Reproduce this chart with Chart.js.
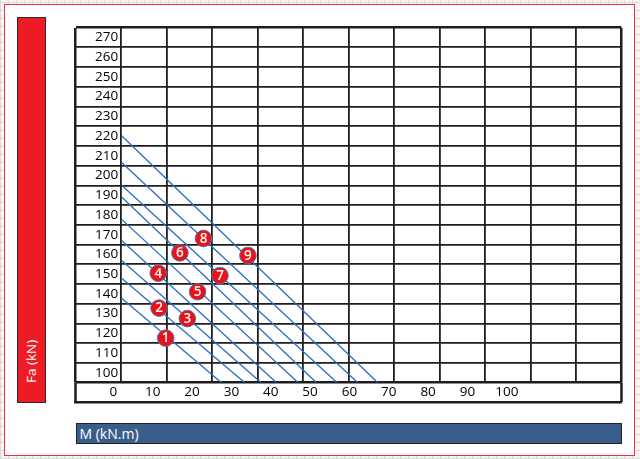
<!DOCTYPE html>
<html>
<head>
<meta charset="utf-8">
<script src="https://cdn.jsdelivr.net/npm/chart.js@4.4.1/dist/chart.umd.min.js"></script>
<style>
  html, body { margin:0; padding:0; }
  body {
    width:640px; height:459px; position:relative; overflow:hidden;
    background-color:#f6f6f6;
    background-image:
      repeating-linear-gradient(0deg, #d9d9d9 0 1px, transparent 1px 8px),
      repeating-linear-gradient(90deg, #d9d9d9 0 1px, transparent 1px 8px);
    font-family:'Open Sans', sans-serif;
  }
  #frame { position:absolute; left:3.5px; top:3.5px; width:631px; height:452.5px;
    box-sizing:border-box; border:1.5px solid #e8343d; background:#fff; }
  #ybar { position:absolute; left:16.5px; top:17px; width:29.5px; height:385.5px;
    box-sizing:border-box; background:#ed1c24; border:1px solid #2a2a2a; }
  #ybar span { position:absolute; left:50%; bottom:3px; transform-origin:0 0;
    transform:rotate(-90deg) translate(0,-50%); color:#fff; font-size:13.5px;
    white-space:nowrap; line-height:16px; }
  #xbar { position:absolute; left:75.5px; top:422.5px; width:546px; height:21px;
    box-sizing:border-box; background:#3a5e8c; border:1px solid #222; color:#fff;
    font-size:14px; line-height:19px; padding-left:3px; }
  #wrap { position:absolute; left:0; top:0; width:640px; height:459px; }
</style>
</head>
<body>
<div id="frame"></div>
<div id="ybar"><span>Fa (kN)</span></div>
<div id="xbar">M (kN.m)</div>
<div id="wrap"><canvas id="c"></canvas></div>
<script>
// ---- data ----
const xTickValues = [0, 10, 20, 30, 40, 50, 60, 70, 80, 90, 100];
const yTickValues = [100, 110, 120, 130, 140, 150, 160, 170, 180, 190, 200, 210, 220, 230, 240, 250, 260, 270];

const lineStartM  = [2.1, 2.1, 2.1, 2.1, 2.1, 2.1, 2.1, 2.1, 2.1];
const lineStartFa = [137.8, 147.9, 157.0, 167.1, 177.8, 189.1, 195.1, 206.6, 220.2];
const lineEndM    = [27.35, 33.27, 37.44, 41.33, 46.85, 51.5, 56.76, 62.0, 67.08];
const lineEndFa   = [95.2, 95.2, 95.2, 95.2, 95.2, 95.2, 95.2, 95.2, 95.2];

const markerLabels = ['1', '2', '3', '4', '5', '6', '7', '8', '9'];
const markerM  = [13.3, 11.6, 18.8, 11.4, 21.4, 16.9, 27.1, 22.9, 34.2];
const markerFa = [117.6, 132.8, 127.5, 150.5, 141.1, 160.8, 149.3, 168.1, 159.5];

// ---- config ----
const X_MIN = -9.634, X_MAX = 129.16;
const Y_MIN = 95, Y_MAX = 275;
const GRID = '#1e1e1e';
const tickFont = { family: "'Open Sans'", size: 13.5 };

const datasets = [{
  label: 'points',
  data: markerM.map((m, i) => ({ x: m, y: markerFa[i] })),
  backgroundColor: '#ea1119',
  borderColor: '#4f76a8',
  borderWidth: 1,
  pointRadius: 8.3,
  pointHoverRadius: 8.3,
  showLine: false
}];
lineStartFa.forEach((fa, i) => {
  datasets.push({
    label: 'line' + (i + 1),
    data: [{ x: lineStartM[i], y: fa }, { x: lineEndM[i], y: lineEndFa[i] }],
    borderColor: '#2d6cbf',
    borderWidth: 1.3,
    pointRadius: 0,
    showLine: true,
    fill: false,
    tension: 0
  });
});

const markerText = {
  id: 'markerText',
  afterDatasetsDraw(chart) {
    const ctx = chart.ctx;
    const meta = chart.getDatasetMeta(0);
    ctx.save();
    ctx.fillStyle = '#fff';
    ctx.font = "600 13.5px 'Open Sans'";
    ctx.textAlign = 'center';
    ctx.textBaseline = 'middle';
    meta.data.forEach((pt, i) => ctx.fillText(markerLabels[i], pt.x, pt.y + 0.5));
    ctx.restore();
  }
};

const isEdge = (v, a, b) => Math.abs(v - a) < 1e-6 || Math.abs(v - b) < 1e-6;

new Chart(document.getElementById('c'), {
  type: 'scatter',
  data: { datasets },
  plugins: [markerText],
  options: {
    responsive: true,
    maintainAspectRatio: false,
    animation: false,
    events: [],
    layout: { padding: { left: 75.5, top: 17, right: 18.5, bottom: 57 } },
    plugins: { legend: { display: false }, tooltip: { enabled: false } },
    scales: {
      x: {
        type: 'linear', position: 'bottom', min: X_MIN, max: X_MAX,
        afterBuildTicks: s => { s.ticks = [X_MIN, ...xTickValues, X_MAX].map(v => ({ value: v })); },
        afterFit: s => { s.height = 19.3; },
        grid: {
          display: true, drawOnChartArea: false, drawTicks: true, tickLength: 19.3,
          tickColor: c => (c.tick && isEdge(c.tick.value, X_MIN, X_MAX)) ? GRID : 'rgba(0,0,0,0)',
          tickWidth: 2.5
        },
        border: { display: false },
        ticks: {
          padding: -17.8, color: '#000', font: tickFont, maxRotation: 0, autoSkip: false,
          callback: v => xTickValues.includes(v) ? String(v) : ''
        }
      },
      xb: {
        type: 'linear', position: 'bottom', weight: 1,
        afterFit: s => { s.height = 0; },
        ticks: { display: false },
        grid: { display: false },
        border: { display: true, color: GRID, width: 2.5 }
      },
      xg: {
        type: 'linear', position: 'top', min: -1, max: 11,
        afterFit: s => { s.height = 0; },
        ticks: { display: false, stepSize: 1 },
        grid: {
          color: GRID, drawTicks: false,
          lineWidth: c => (c.tick && isEdge(c.tick.value, -1, 11)) ? 2.5 : 1.8
        },
        border: { display: false }
      },
      y: {
        type: 'linear', position: 'left', min: Y_MIN, max: Y_MAX,
        afterBuildTicks: s => { s.ticks = yTickValues.map(v => ({ value: v })); },
        afterFit: s => { s.width = 0; },
        ticks: { mirror: true, padding: 19.5, color: '#000', font: tickFont, autoSkip: false },
        grid: { display: false },
        border: { display: false }
      },
      yg: {
        type: 'linear', position: 'left', min: Y_MIN, max: Y_MAX,
        afterFit: s => { s.width = 0; },
        ticks: { display: false, stepSize: 10 },
        grid: {
          color: GRID, drawTicks: false,
          lineWidth: c => (c.tick && isEdge(c.tick.value, Y_MIN, Y_MAX)) ? 2.5 : 1.8
        },
        border: { display: false }
      }
    }
  }
});
</script>
</body>
</html>
